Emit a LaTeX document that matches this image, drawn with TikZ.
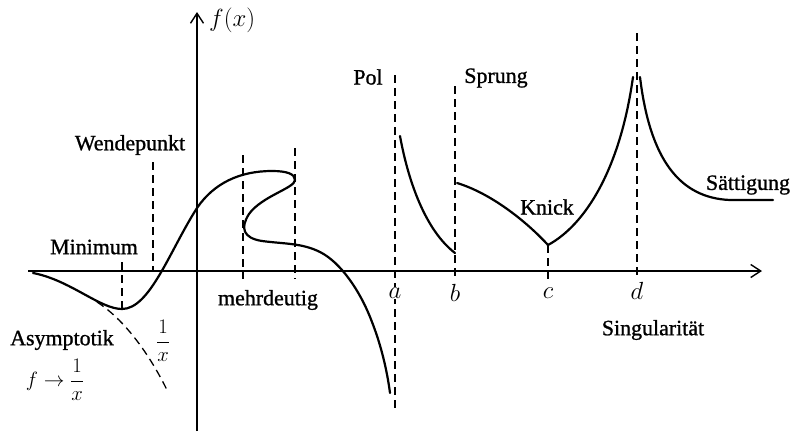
\documentclass[tikz,border=0pt]{standalone}
\usepackage{amsmath}
\usepackage{fontspec}
\setmainfont[FakeBold=1]{Liberation Serif}
\usetikzlibrary{arrows.meta}
\begin{document}
\begin{tikzpicture}[x=1bp,y=-1bp,
  curve/.style={line width=2.2bp,line cap=round,line join=round},
  axis/.style={line width=1.4bp,-{Straight Barb[length=10bp,width=13bp,line width=1.4bp]}},
  guide/.style={line width=1.3bp,dash pattern=on 8bp off 5bp},
  lbl/.style={font=\fontsize{22}{26}\selectfont,inner sep=0pt},
  mlbl/.style={font=\fontsize{23}{27}\selectfont,inner sep=1bp}]
\useasboundingbox (0,0) rectangle (793,432);
% axes
\coordinate (xs) at (28,271);
\coordinate (xe) at (762,271);
\coordinate (ys) at (197,431);
\coordinate (ye) at (197,12);
\draw[axis] (xs) -- (xe);
\draw[axis] (ys) -- (ye);
\node[mlbl,anchor=west] (fx) at (208,20) {$f(x)$};
% guide lines
\draw[guide] (153,162) -- (153,272);
\draw[guide] (122,262) -- (122,309);
\draw[guide] (243,155) -- (243,279);
\draw[guide] (295,148) -- (295,279);
\draw[guide] (395,75) -- (395,410);
\draw[guide] (455,86) -- (455,279);
\draw[guide] (548,245) -- (548,279);
\draw[guide] (637,33) -- (637,279);
% asymptote
\draw[guide] (97,302) .. controls (125,320) and (150,355) .. (168,392);
% main curve
\draw[curve] (33,273) .. controls (70,280) and (100,309) .. (122,309)
  .. controls (150,309) and (170,250) .. (197,208)
  .. controls (214,183) and (240,171) .. (272,171)
  .. controls (287,171) and (295,174) .. (295,180)
  .. controls (295,188) and (262,196) .. (249,214)
  .. controls (240,228) and (243,238) .. (262,241)
  .. controls (285,244) and (302,243) .. (320,252)
  .. controls (340,262) and (360,290) .. (372,322)
  .. controls (381,345) and (387,370) .. (390,393);
% pole right branch
\draw[curve] (400,136) .. controls (408,180) and (425,230) .. (455,253);
% Sprung piece and Knick
\draw[curve] (457,183) .. controls (490,193) and (525,220) .. (548,245);
\draw[curve] (548,245) .. controls (585,225) and (620,170) .. (633,77);
\draw[curve] (640,77) .. controls (650,160) and (680,198) .. (730,200) -- (773,200);
% labels
\node[lbl] (wende) at (130,145) {Wendepunkt};
\node[lbl] (mini) at (94,247) {Minimum};
\node[lbl] (asym) at (62,340) {Asymptotik};
\node[lbl] (fr1) at (163,341) {$\dfrac{1}{x}$};
\node[lbl] (ff) at (55,380) {$f\rightarrow\dfrac{1}{x}$};
\node[lbl] (mehr) at (268,300) {mehrdeutig};
\node[lbl] (pol) at (368,77) {Pol};
\node[lbl] (spr) at (496,78) {Sprung};
\node[lbl] (knick) at (547,207) {Knick};
\node[lbl] (satt) at (748,185) {Sättigung};
\node[lbl] (sing) at (653,330) {Singularität};
\node[mlbl,fill=white] (la) at (395,293) {$a$};
\node[mlbl] (lb) at (455,293) {$b$};
\node[mlbl] (lc) at (548,293) {$c$};
\node[mlbl] (ld) at (637,291) {$d$};
\end{tikzpicture}
\end{document}
